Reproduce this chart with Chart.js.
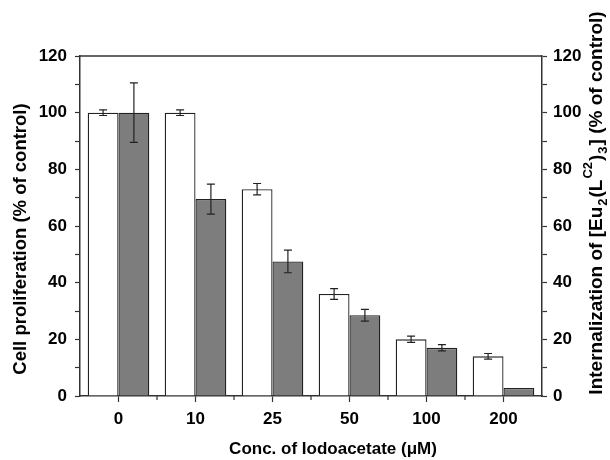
<!DOCTYPE html>
<html>
<head>
<meta charset="utf-8">
<script src="https://cdn.jsdelivr.net/npm/chart.js@4/dist/chart.umd.min.js"></script>
<style>
  html, body { margin: 0; padding: 0; background: #fff; }
  #wrap { width: 610px; height: 460px; }
</style>
</head>
<body>
<div id="wrap"><canvas id="myCanvas" width="610" height="460"></canvas></div>
<script>
'use strict';

// data
const categories = ['0', '10', '25', '50', '100', '200'];
const proliferation = [100, 100, 73, 36, 20, 14];
const proliferationErr = [1, 1, 2, 1.9, 1.1, 1];
const internalization = [100, 69.5, 47.5, 28.5, 17, 2.8];
const internalizationErr = [10.5, 5.3, 4, 2.1, 1.1, 0];
const errors = [proliferationErr, internalizationErr];

const FONT = '"Liberation Sans", Arial, sans-serif';
const AXIS = '#333';

// error bars drawn through the y scale
const errorBars = {
  id: 'errorBars',
  afterDatasetsDraw(chart) {
    const ctx = chart.ctx;
    const yScale = chart.scales.y;
    ctx.save();
    ctx.strokeStyle = '#222';
    ctx.lineWidth = 1.2;
    chart.data.datasets.forEach(function(ds, d) {
      const meta = chart.getDatasetMeta(d);
      meta.data.forEach(function(bar, i) {
        const e = errors[d][i];
        if (!e) return;
        const v = ds.data[i];
        const x = bar.x;
        const yt = yScale.getPixelForValue(v + e);
        const yb = yScale.getPixelForValue(v - e);
        ctx.beginPath();
        ctx.moveTo(x, yt); ctx.lineTo(x, yb);
        ctx.moveTo(x - 4, yt); ctx.lineTo(x + 4, yt);
        ctx.moveTo(x - 4, yb); ctx.lineTo(x + 4, yb);
        ctx.stroke();
      });
    });
    ctx.restore();
  }
};

function drawRich(ctx, parts, cx, cy, rot, size) {
  const big = 'bold ' + size + 'px ' + FONT;
  const small = 'bold ' + Math.round(size * 0.68) + 'px ' + FONT;
  let total = 0;
  parts.forEach(function(p) {
    ctx.font = p[1] === 'n' ? big : small;
    p[2] = ctx.measureText(p[0]).width + (p[1] === 'n' ? 0 : 2);
    total += p[2];
  });
  ctx.save();
  ctx.translate(cx, cy);
  ctx.rotate(rot);
  ctx.fillStyle = '#000';
  ctx.textBaseline = 'middle';
  ctx.textAlign = 'left';
  let x = -total / 2;
  parts.forEach(function(p) {
    ctx.font = p[1] === 'n' ? big : small;
    let dy = 0;
    if (p[1] === 'sub') dy = 6;
    if (p[1] === 'sup') dy = -9;
    ctx.fillText(p[0], x + (p[1] === 'n' ? 0 : 1), dy);
    x += p[2];
  });
  ctx.restore();
}

// frame line, minor x ticks and axis titles
const frame = {
  id: 'frame',
  afterDraw(chart) {
    const ctx = chart.ctx;
    const a = chart.chartArea;
    const xs = chart.scales.x;
    ctx.save();
    ctx.strokeStyle = AXIS;
    ctx.lineWidth = 1.5;
    ctx.beginPath();
    ctx.moveTo(a.left, a.top);
    ctx.lineTo(a.right, a.top);
    ctx.stroke();
    ctx.lineWidth = 1.2;
    ctx.beginPath();
    for (let i = 1; i < categories.length; i++) {
      const bx = (xs.getPixelForValue(i - 1) + xs.getPixelForValue(i)) / 2;
      ctx.moveTo(bx, a.bottom);
      ctx.lineTo(bx, a.bottom + 4);
    }
    ctx.stroke();
    ctx.restore();

    drawRich(ctx, [['Cell proliferation (% of control)', 'n']], 21, 239, -Math.PI / 2, 18.5);
    drawRich(ctx, [['Conc. of Iodoacetate (\u03bcM)', 'n']], 333, 449, 0, 17);
    drawRich(ctx, [
      ['Internalization of [Eu', 'n'],
      ['2', 'sub'],
      ['(L', 'n'],
      ['C2', 'sup'],
      [')', 'n'],
      ['3', 'sub'],
      ['] (% of control)', 'n']
    ], 597, 203, -Math.PI / 2, 19);
  }
};

let myChart = document.getElementById('myCanvas').getContext('2d');
let myBarChart = new Chart(myChart, {
  type: 'bar',
  data: {
    labels: categories,
    datasets: [{
      label: 'Cell proliferation',
      data: proliferation,
      backgroundColor: '#ffffff',
      borderColor: '#222',
      borderWidth: 1.3,
      yAxisID: 'y'
    }, {
      label: 'Internalization',
      data: internalization,
      backgroundColor: '#7d7d7d',
      borderColor: '#222',
      borderWidth: 1.3,
      yAxisID: 'y'
    }]
  },
  options: {
    responsive: false,
    animation: false,
    devicePixelRatio: 1,
    layout: { padding: { top: 56, left: 0, right: 0, bottom: 0 } },
    plugins: {
      legend: { display: false },
      tooltip: { enabled: false }
    },
    datasets: {
      bar: { categoryPercentage: 0.8, barPercentage: 1.0, borderSkipped: 'bottom' }
    },
    scales: {
      x: {
        offset: true,
        afterFit: function(s) { s.height = 64; },
        grid: { display: true, drawOnChartArea: false, offset: false, tickLength: 6, tickColor: AXIS, tickWidth: 1.2 },
        border: { display: true, color: AXIS, width: 1.5 },
        ticks: { color: '#000', font: { family: FONT, size: 17, weight: 'bold' }, padding: 7, maxRotation: 0 }
      },
      y: {
        position: 'left',
        min: 0, max: 120,
        afterFit: function(s) { s.width = 80; },
        grid: { display: true, drawOnChartArea: false, tickLength: 5, tickColor: AXIS, tickWidth: 1.2 },
        border: { display: true, color: AXIS, width: 1.5 },
        ticks: {
          stepSize: 10, color: '#000', padding: 8,
          font: { family: FONT, size: 17, weight: 'bold' },
          callback: function(v) { return v % 20 === 0 ? v : ''; }
        }
      },
      y2: {
        position: 'right',
        min: 0, max: 120,
        afterFit: function(s) { s.width = 68; },
        grid: { display: true, drawOnChartArea: false, tickLength: 5, tickColor: AXIS, tickWidth: 1.2 },
        border: { display: true, color: AXIS, width: 1.5 },
        ticks: {
          stepSize: 10, color: '#000', padding: 6,
          font: { family: FONT, size: 17, weight: 'bold' },
          callback: function(v) { return v % 20 === 0 ? v : ''; }
        }
      }
    }
  },
  plugins: [errorBars, frame]
});
</script>
</body>
</html>
